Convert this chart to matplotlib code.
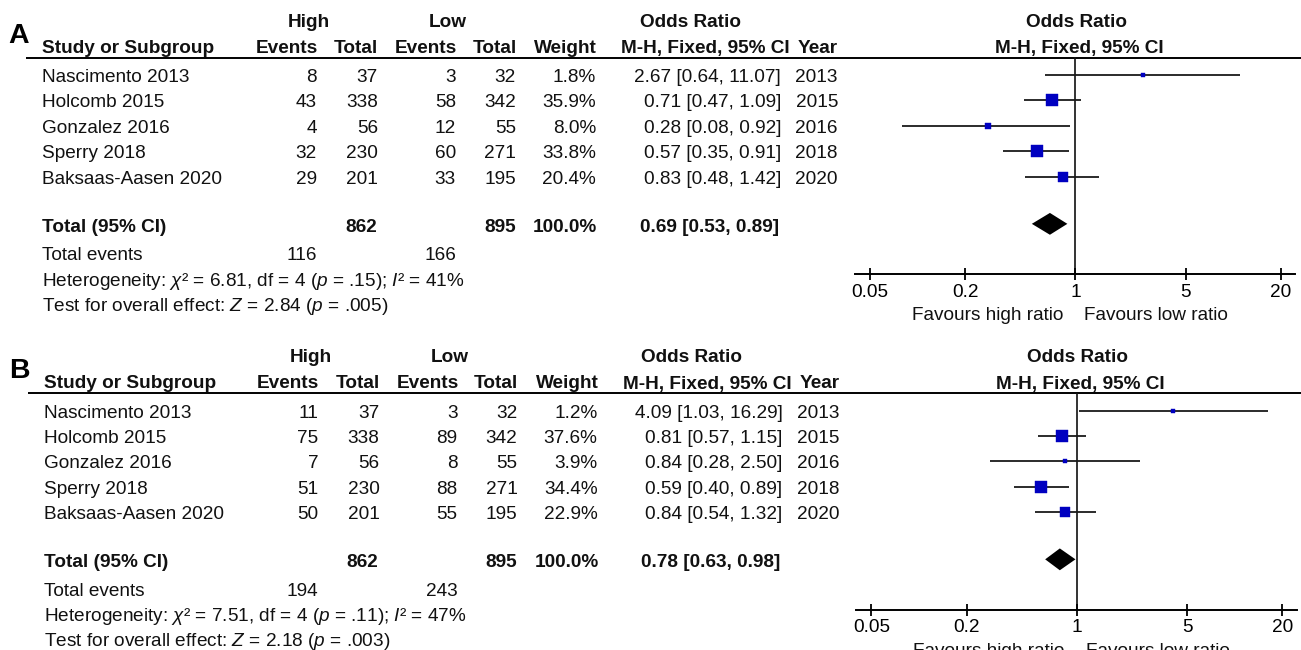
import numpy as np
import matplotlib
matplotlib.use("Agg")
import matplotlib.pyplot as plt

# ---------------- data ----------------
studies = ["Nascimento 2013", "Holcomb 2015", "Gonzalez 2016", "Sperry 2018", "Baksaas-Aasen 2020"]
years = [2013, 2015, 2016, 2018, 2020]
high_total = [37, 338, 56, 230, 201]
low_total = [32, 342, 55, 271, 195]
sum_high_total = 862
sum_low_total = 895

A_high_events = [8, 43, 4, 32, 29]
A_low_events = [3, 58, 12, 60, 33]
A_weight = [1.8, 35.9, 8.0, 33.8, 20.4]
A_or = [2.67, 0.71, 0.28, 0.57, 0.83]
A_lo = [0.64, 0.47, 0.08, 0.35, 0.48]
A_hi = [11.07, 1.09, 0.92, 0.91, 1.42]
A_total = [0.69, 0.53, 0.89]
A_total_events = [116, 166]
A_het = ["6.81", "4", ".15", "41"]
A_z = ["2.84", ".005"]

B_high_events = [11, 75, 7, 51, 50]
B_low_events = [3, 89, 8, 88, 55]
B_weight = [1.2, 37.6, 3.9, 34.4, 22.9]
B_or = [4.09, 0.81, 0.84, 0.59, 0.84]
B_lo = [1.03, 0.57, 0.28, 0.40, 0.54]
B_hi = [16.29, 1.15, 2.50, 0.89, 1.32]
B_total = [0.78, 0.63, 0.98]
B_total_events = [194, 243]
B_het = ["7.51", "4", ".11", "47"]
B_z = ["2.18", ".003"]

tick_values = [0.05, 0.2, 1, 5, 20]
tick_labels = ["0.05", "0.2", "1", "5", "20"]

# ---------------- style ----------------
FONT = "Liberation Sans"
plt.rcParams["font.family"] = [FONT, "DejaVu Sans"]
plt.rcParams["mathtext.fontset"] = "custom"
plt.rcParams["mathtext.rm"] = FONT
plt.rcParams["mathtext.it"] = FONT + ":italic"
plt.rcParams["mathtext.bf"] = FONT + ":bold"
FS = 13.7
TXT = "#111111"
BLUE = "#0000c0"

W, H = 1301, 650
fig = plt.figure(figsize=(W / 100, H / 100), dpi=100)
ov = fig.add_axes([0, 0, 1, 1])
ov.set_xlim(0, W)
ov.set_ylim(H, 0)
ov.axis("off")

PITCH = 25.4


def t(x, y, s, ha="left", bold=False, size=FS, color=TXT):
    ov.text(x, y, s, ha=ha, va="baseline", fontsize=size,
            fontweight="bold" if bold else "normal", color=color)


def panel(label, dy, dx, he, le, wt, orr, lo, hi, tot, tev, het, z):
    # panel label
    t(8 + dx, 43 + dy, label, bold=True, size=20.5, color="black")
    # headers
    t(309 + dx, 27 + dy, "High", ha="center", bold=True)
    t(448 + dx, 27 + dy, "Low", ha="center", bold=True)
    t(690 + dx, 27 + dy, "Odds Ratio", ha="center", bold=True)
    t(1076 + dx, 27 + dy, "Odds Ratio", ha="center", bold=True)
    hb = 53 + dy
    t(42 + dx, hb, "Study or Subgroup", bold=True)
    t(318 + dx, hb, "Events", ha="right", bold=True)
    t(378 + dx, hb, "Total", ha="right", bold=True)
    t(457 + dx, hb, "Events", ha="right", bold=True)
    t(517 + dx, hb, "Total", ha="right", bold=True)
    t(597 + dx, hb, "Weight", ha="right", bold=True)
    t(790 + dx, hb, "M-H, Fixed, 95% CI", ha="right", bold=True)
    t(838 + dx, hb, "Year", ha="right", bold=True)
    t(1079 + dx, hb, "M-H, Fixed, 95% CI", ha="center", bold=True)
    # header rule
    ov.plot([26 + dx, W], [57.5 + dy, 57.5 + dy], color="black", lw=1.4,
            solid_capstyle="butt")
    # rows
    for i in range(len(studies)):
        yb = 82 + dy + PITCH * i
        t(42 + dx, yb, studies[i])
        t(317 + dx, yb, str(he[i]), ha="right")
        t(378 + dx, yb, str(high_total[i]), ha="right")
        t(456 + dx, yb, str(le[i]), ha="right")
        t(516 + dx, yb, str(low_total[i]), ha="right")
        t(596 + dx, yb, f"{wt[i]:.1f}%", ha="right")
        t(781 + dx, yb, f"{orr[i]:.2f} [{lo[i]:.2f}, {hi[i]:.2f}]", ha="right")
        t(838 + dx, yb, str(years[i]), ha="right")
    yb = 231.7 + dy
    t(42 + dx, yb, "Total (95% CI)", bold=True)
    t(377 + dx, yb, str(sum_high_total), ha="right", bold=True)
    t(516 + dx, yb, str(sum_low_total), ha="right", bold=True)
    t(597 + dx, yb, "100.0%", ha="right", bold=True)
    t(779 + dx, yb, f"{tot[0]:.2f} [{tot[1]:.2f}, {tot[2]:.2f}]", ha="right", bold=True)
    yb = 260 + dy
    t(42 + dx, yb, "Total events")
    t(317 + dx, yb, str(tev[0]), ha="right")
    t(456 + dx, yb, str(tev[1]), ha="right")
    t(42 + dx, 285.7 + dy,
      "Heterogeneity: $\\chi$\u00b2 = %s, df = %s ($p$ = %s); $I$\u00b2 = %s%%" % tuple(het))
    t(42 + dx, 311 + dy,
      "Test for overall effect: $Z$ = %s ($p$ = %s)" % tuple(z))

    # ---------- forest axes ----------
    px_left, px_right = 855 + dx, 1295 + dx
    px_top, px_bot = 57.5 + dy, 274 + dy
    ax = fig.add_axes([px_left / W, 1 - px_bot / H,
                       (px_right - px_left) / W, (px_bot - px_top) / H])
    ax.patch.set_alpha(0)
    ax.set_xscale("log")
    dec = (1280.7 - 870) / np.log10(20 / 0.05)
    x0 = 10 ** (np.log10(0.05) - (870 - 855) / dec)
    x1 = 10 ** (np.log10(20) + (1295 - 1280.7) / dec)
    ax.set_xlim(x0, x1)
    y_top = (57.5 - 75) / PITCH
    y_bot = (274 - 75) / PITCH
    ax.set_ylim(y_bot, y_top)
    for s in ["top", "left", "right"]:
        ax.spines[s].set_visible(False)
    ax.spines["bottom"].set_linewidth(1.4)
    ax.set_yticks([])
    ax.set_xticks(tick_values)
    ax.set_xticklabels(tick_labels)
    ax.minorticks_off()
    ax.tick_params(axis="x", direction="inout", length=8, width=1.3, pad=3,
                   labelsize=FS, colors="black")
    ax.axvline(1, color="#111111", lw=1.2, zorder=1)
    ys = np.arange(len(studies))
    for i in range(len(studies)):
        ax.plot([lo[i], hi[i]], [ys[i], ys[i]], color="#1a1a1a", lw=1.3, zorder=2,
                solid_capstyle="butt")
        side_px = max(12.3 * np.sqrt(wt[i] / 35.9), 3.6)
        ax.plot(orr[i], ys[i], marker="s", ms=side_px * 0.72,
                color=BLUE, mec=BLUE, mew=0.3, zorder=3)
    yt = 5.86
    h = 0.43
    ax.fill([tot[1], tot[0], tot[2], tot[0]], [yt, yt - h, yt, yt + h],
            color="black", lw=0, zorder=3)
    # favours labels
    t(1063 + dx, 320 + dy, "Favours high ratio", ha="right")
    t(1084 + dx, 320 + dy, "Favours low ratio", ha="left")


panel("A", 0, 0, A_high_events, A_low_events, A_weight, A_or, A_lo, A_hi,
      A_total, A_total_events, A_het, A_z)
panel("B", 335.5, 1.5, B_high_events, B_low_events, B_weight, B_or, B_lo, B_hi,
      B_total, B_total_events, B_het, B_z)

fig.savefig("out.png", dpi=100)
